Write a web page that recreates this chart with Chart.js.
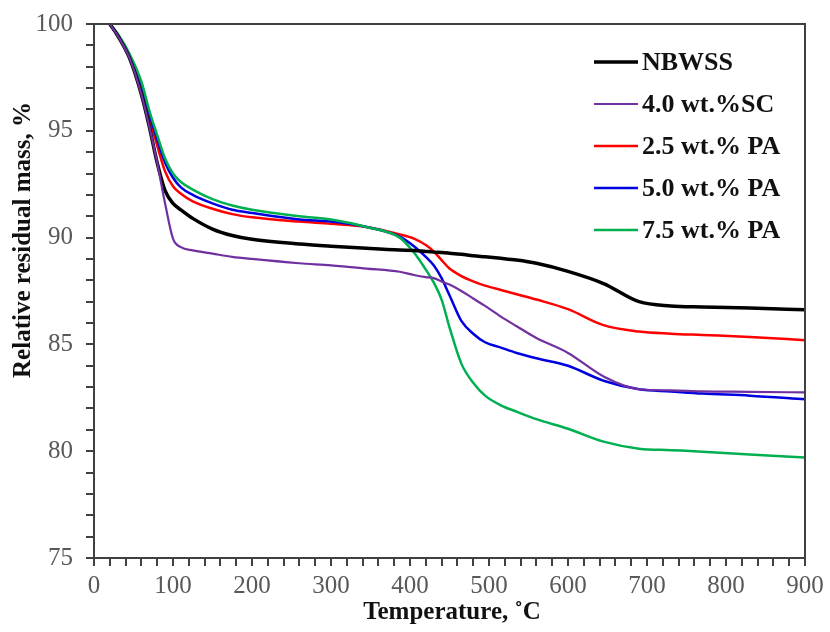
<!DOCTYPE html>
<html>
<head>
<meta charset="utf-8">
<script src="https://cdn.jsdelivr.net/npm/chart.js@4"></script>
<style>
html,body{margin:0;padding:0;background:#fff;}
#wrap{width:830px;height:632px;position:relative;}
</style>
</head>
<body>
<div id="wrap"><canvas id="c" width="830" height="632"></canvas></div>
<script>
const temperatures = [20, 30, 45, 60, 70, 80, 90, 100, 110, 125, 150, 175, 200, 260, 300, 345, 387, 405, 420, 430, 440, 450, 465, 480, 495, 515, 535, 560, 600, 645, 690, 730, 770, 830, 900];
const seriesNames = ["NBWSS", "4.0 wt.%SC", "2.5 wt.% PA", "5.0 wt.% PA", "7.5 wt.% PA"];
const nbwss = [100, 99.45, 98.4, 96.7, 95.2, 93.5, 92.2, 91.6, 91.3, 90.9, 90.4, 90.1, 89.92, 89.7, 89.6, 89.5, 89.42, 89.4, 89.35, 89.32, 89.3, 89.27, 89.22, 89.15, 89.1, 89.03, 88.95, 88.8, 88.42, 87.85, 87.0, 86.8, 86.75, 86.7, 86.62];
const sc40 = [100, 99.45, 98.4, 96.7, 95.2, 93.5, 91.6, 89.95, 89.55, 89.4, 89.25, 89.1, 89.0, 88.8, 88.7, 88.55, 88.4, 88.25, 88.15, 88.1, 87.95, 87.8, 87.5, 87.15, 86.8, 86.3, 85.85, 85.3, 84.6, 83.5, 82.9, 82.85, 82.8, 82.78, 82.75];
const pa25 = [100, 99.5, 98.45, 97.0, 95.6, 94.3, 93.1, 92.4, 92.05, 91.7, 91.35, 91.1, 90.95, 90.75, 90.65, 90.5, 90.15, 89.95, 89.65, 89.35, 88.95, 88.55, 88.2, 87.95, 87.75, 87.55, 87.35, 87.1, 86.65, 85.9, 85.6, 85.5, 85.44, 85.35, 85.2];
const pa50 = [100, 99.5, 98.55, 97.2, 95.8, 94.6, 93.5, 92.8, 92.35, 92.0, 91.6, 91.3, 91.15, 90.85, 90.75, 90.5, 90.05, 89.6, 89.1, 88.7, 88.1, 87.3, 86.1, 85.5, 85.1, 84.85, 84.6, 84.35, 84.0, 83.3, 82.9, 82.8, 82.7, 82.6, 82.43];
const pa75 = [100, 99.55, 98.6, 97.3, 95.95, 94.8, 93.7, 93.0, 92.6, 92.25, 91.8, 91.5, 91.3, 91.0, 90.85, 90.5, 90.0, 89.3, 88.5, 87.9, 87.1, 85.8, 84.1, 83.2, 82.6, 82.15, 81.85, 81.5, 81.05, 80.45, 80.12, 80.05, 79.98, 79.85, 79.7];
const xTickLabels = [0, 100, 200, 300, 400, 500, 600, 700, 800, 900];
const yTickLabels = [75, 80, 85, 90, 95, 100];
const xTitle = 'Temperature, ˚C';
const yTitle = 'Relative residual mass, %';

const colors = ["#000000", "#7030A0", "#FF0000", "#0000E0", "#00B050"];
const widths = [3.5, 2.2, 2.5, 2.5, 2.5];
const values = [nbwss, sc40, pa25, pa50, pa75];

const datasets = seriesNames.map((name, i) => ({
  label: name,
  data: temperatures.map((t, k) => ({x: t, y: values[i][k]})),
  borderColor: colors[i],
  backgroundColor: colors[i],
  borderWidth: widths[i],
  pointRadius: 0,
  fill: false,
  cubicInterpolationMode: 'monotone',
  order: [1, 0, 3, 2, 1][i]
}));

const SERIF = '"Liberation Serif", "Times New Roman", serif';

const frameAndLegend = {
  id: 'frameAndLegend',
  afterDatasetsDraw(chart) {
    const ctx = chart.ctx, a = chart.chartArea;
    ctx.save();
    ctx.strokeStyle = '#404040';
    ctx.lineWidth = 2;
    ctx.beginPath();
    ctx.moveTo(a.left, a.top); ctx.lineTo(a.right, a.top); ctx.lineTo(a.right, a.bottom);
    ctx.stroke();
    // legend
    ctx.font = 'bold 26px ' + SERIF;
    ctx.textBaseline = 'middle';
    ctx.textAlign = 'left';
    chart.data.datasets.forEach((ds, i) => {
      const y = 62 + i * 42;
      ctx.strokeStyle = ds.borderColor;
      ctx.lineWidth = ds.borderWidth;
      ctx.beginPath(); ctx.moveTo(594, y); ctx.lineTo(638, y); ctx.stroke();
      ctx.fillStyle = '#111';
      ctx.fillText(ds.label, 642, y + 1);
    });
    // axis titles
    ctx.font = 'bold 25px ' + SERIF;
    ctx.fillStyle = '#111';
    ctx.textAlign = 'center';
    ctx.textBaseline = 'middle';
    ctx.fillText(xTitle, 452, 613);
    ctx.translate(24, 240);
    ctx.rotate(-Math.PI / 2);
    ctx.fillText(yTitle, 0, 0);
    ctx.restore();
  }
};

new Chart(document.getElementById('c'), {
  type: 'line',
  data: {datasets},
  plugins: [frameAndLegend],
  options: {
    responsive: false,
    animation: false,
    layout: {padding: {top: 24, right: 25, left: 0, bottom: 0}},
    plugins: {legend: {display: false}, tooltip: {enabled: false}},
    scales: {
      x: {
        type: 'linear', min: 0, max: 900,
        afterFit: s => { s.height = 74; s.paddingLeft = 0; s.paddingRight = 0; },
        ticks: {
          stepSize: 20, autoSkip: false, maxRotation: 0,
          color: '#595959', padding: 5,
          font: {family: SERIF, size: 25},
          callback: v => xTickLabels.includes(v) ? String(v) : ''
        },
        grid: {display: true, drawOnChartArea: false, drawTicks: true, tickLength: 8, color: '#404040', lineWidth: 2},
        border: {display: true, color: '#404040', width: 2},
        title: {display: false}
      },
      y: {
        min: 75, max: 100,
        afterFit: s => { s.width = 94; s.paddingTop = 0; s.paddingBottom = 0; },
        ticks: {
          stepSize: 1, autoSkip: false,
          color: '#595959', padding: 13,
          font: {family: SERIF, size: 25},
          callback: v => yTickLabels.includes(v) ? String(v) : ''
        },
        grid: {display: true, drawOnChartArea: false, drawTicks: true, tickLength: 8, color: '#404040', lineWidth: 2},
        border: {display: true, color: '#404040', width: 2},
        title: {display: false}
      }
    }
  }
});
</script>
</body>
</html>
